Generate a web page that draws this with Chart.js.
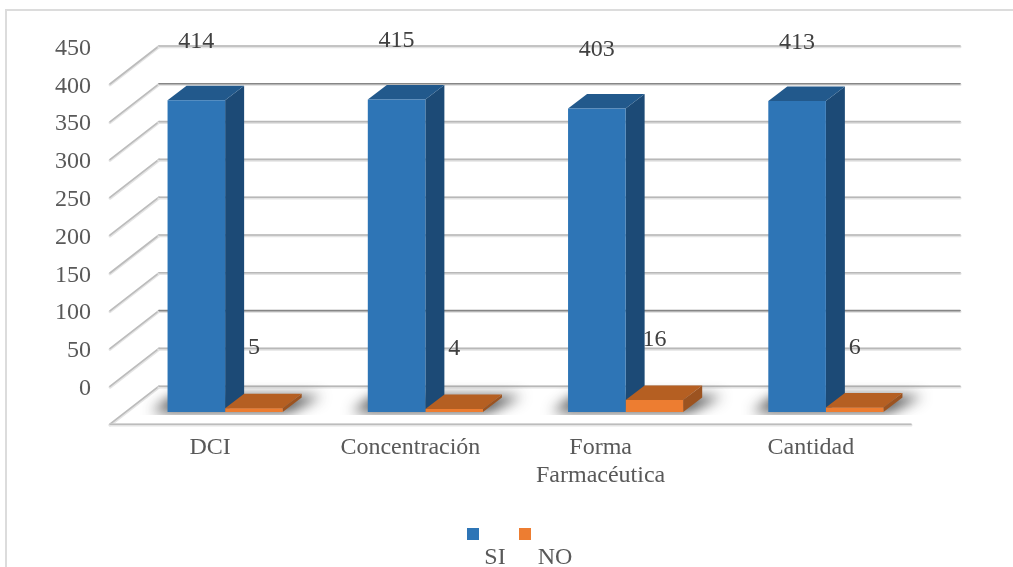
<!DOCTYPE html>
<html><head><meta charset="utf-8">
<style>html,body{margin:0;padding:0;background:#fff;overflow:hidden}#w{position:relative;width:1013px;height:567px}</style>
<script src="https://cdn.jsdelivr.net/npm/chart.js@4/dist/chart.umd.min.js"></script>
</head><body><div id="w"><canvas id="c" width="1013" height="567"></canvas></div>
<script>
const categories = ['DCI', 'Concentración', ['Forma', 'Farmacéutica'], 'Cantidad'];
const seriesSI = [414, 415, 403, 413];
const seriesNO = [5, 4, 16, 6];
const seriesNames = ['SI', 'NO'];
const yTickLabels = [0, 50, 100, 150, 200, 250, 300, 350, 400, 450];
const darkGridTicks = [400, 100];
const categoryLabelShift = [0, 0, -10, 0];

const FONT = '"Liberation Serif","Times New Roman",serif';
const TXT = '#595959';
const WALL = 34, FLOOR_L = -15, DEPTH_X = 49, DEPTH_Y = 38, BAR_DX = 19, BAR_DY = 14.5;
const LABEL_RISE = [58.5, 60];
const faces = [
  {front:'#2e75b6', top:'#22598c', side:'#1c4a76'},
  {front:'#ed7d31', top:'#b55f22', side:'#9c5320'}
];

function poly(ctx, pts, fill){
  ctx.beginPath(); pts.forEach((p,i)=> i?ctx.lineTo(p[0],p[1]):ctx.moveTo(p[0],p[1])); ctx.closePath();
  ctx.fillStyle = fill; ctx.fill();
}
function softLine(ctx, x0, y0, x1, y1, color){
  ctx.lineCap='round';
  ctx.lineWidth=3; ctx.strokeStyle='#e4e4e4';
  ctx.beginPath(); ctx.moveTo(x0,y0+0.8); ctx.lineTo(x1,y1+0.8); ctx.stroke();
  ctx.lineWidth=1.6; ctx.strokeStyle=color;
  ctx.beginPath(); ctx.moveTo(x0,y0); ctx.lineTo(x1,y1); ctx.stroke();
}

const scene = {
  id:'scene',
  beforeDraw(chart){
    const {ctx, scales:{x,y}} = chart;
    ctx.save();
    ctx.fillStyle='#fff'; ctx.fillRect(0,0,chart.width,chart.height);
    ctx.strokeStyle='#dcdcdc'; ctx.lineWidth=2; ctx.strokeRect(6,10,2000,2000);
    yTickLabels.forEach(v=>{
      const py = y.getPixelForValue(v);
      softLine(ctx, x.left+WALL, py, x.left+WALL-DEPTH_X, py+DEPTH_Y, '#bcbcbc');
      softLine(ctx, x.left+WALL, py, x.right+WALL, py, darkGridTicks.includes(v) ? '#868686' : '#b8b8b8');
    });
    const p0 = y.getPixelForValue(0)+DEPTH_Y;
    softLine(ctx, x.left+FLOOR_L, p0, x.right+FLOOR_L, p0, '#bcbcbc');
    ctx.restore();
    x.getLabelItems().forEach((it,i)=>{
      if(!it._moved){ it.options.translation[0]+=categoryLabelShift[i]; it._moved=true; }
    });
    y.getLabelItems().forEach(it=>{
      if(!it._moved){ it.options.translation[1]+=2.5; it._moved=true; }
    });
  },
  beforeDatasetsDraw(chart){
    const ctx = chart.ctx;
    const m0 = chart.getDatasetMeta(0).data, m1 = chart.getDatasetMeta(1).data;
    ctx.save();
    m0.forEach((b,i)=>{
      const l=b.x-b.width/2, r=m1[i].x+m1[i].width/2, base=b.base;
      const off=3000;
      ctx.save();
      ctx.beginPath(); ctx.rect(l-40,base-40,r-l+120,43); ctx.clip();
      ctx.shadowColor='rgba(30,30,30,.8)'; ctx.shadowBlur=13; ctx.shadowOffsetX=off;
      poly(ctx,[[l-16-off,base],[l+6-off,base-16],[r+BAR_DX+20-off,base-16],[r+6-off,base]],'#000');
      ctx.restore();
    });
    [m0,m1].forEach((m,s)=>m.forEach(b=>{
      const l=b.x-b.width/2, r=b.x+b.width/2, t=b.y, base=b.base, f=faces[s];
      poly(ctx,[[r,t],[r+BAR_DX,t-BAR_DY],[r+BAR_DX,base-BAR_DY],[r,base]],f.side);
      poly(ctx,[[l,t],[l+BAR_DX,t-BAR_DY],[r+BAR_DX,t-BAR_DY],[r,t]],f.top);
    }));
    ctx.restore();
  },
  afterDatasetsDraw(chart){
    const ctx = chart.ctx;
    ctx.save();
    ctx.font='24px '+FONT; ctx.textAlign='center'; ctx.textBaseline='middle'; ctx.fillStyle='#404040';
    chart.data.datasets.forEach((d,s)=>{
      chart.getDatasetMeta(s).data.forEach((b,i)=>ctx.fillText(String(d.data[i]), b.x, b.y-LABEL_RISE[s]));
    });
    const swX=[467,519], txtX=[495,555];
    chart.data.datasets.forEach((d,s)=>{
      ctx.fillStyle=d.backgroundColor; ctx.fillRect(swX[s],528,12,12);
      ctx.fillStyle=TXT; ctx.fillText(d.label, txtX[s], 558);
    });
    ctx.restore();
  }
};

new Chart(document.getElementById('c'),{
  type:'bar',
  data:{labels:categories,datasets:[
    {label:seriesNames[0],data:seriesSI,backgroundColor:faces[0].front,yAxisID:'y1',xAxisID:'x'},
    {label:seriesNames[1],data:seriesNO,backgroundColor:faces[1].front,yAxisID:'y1',xAxisID:'x'}
  ]},
  plugins:[scene],
  options:{
    responsive:false,animation:false,
    layout:{padding:{left:0,top:46,right:87,bottom:0}},
    datasets:{bar:{barPercentage:1,categoryPercentage:0.575}},
    plugins:{legend:{display:false},tooltip:{enabled:false},title:{display:false}},
    scales:{
      x:{
        grid:{display:false},border:{display:false},
        afterFit(s){s.height=143;},
        ticks:{autoSkip:false,maxRotation:0,minRotation:0,padding:2,labelOffset:-15,color:TXT,
               font:{family:FONT,size:24,lineHeight:1.167}}
      },
      y:{
        min:-50,max:450,
        grid:{display:false},border:{display:false},
        afterFit(s){s.width=125;},
        ticks:{stepSize:50,padding:26,color:TXT,font:{family:FONT,size:24},
               callback:v=>yTickLabels.includes(v)?String(v):''}
      },
      y1:{display:false,min:-16,max:486}
    }
  }
});
</script></body></html>
